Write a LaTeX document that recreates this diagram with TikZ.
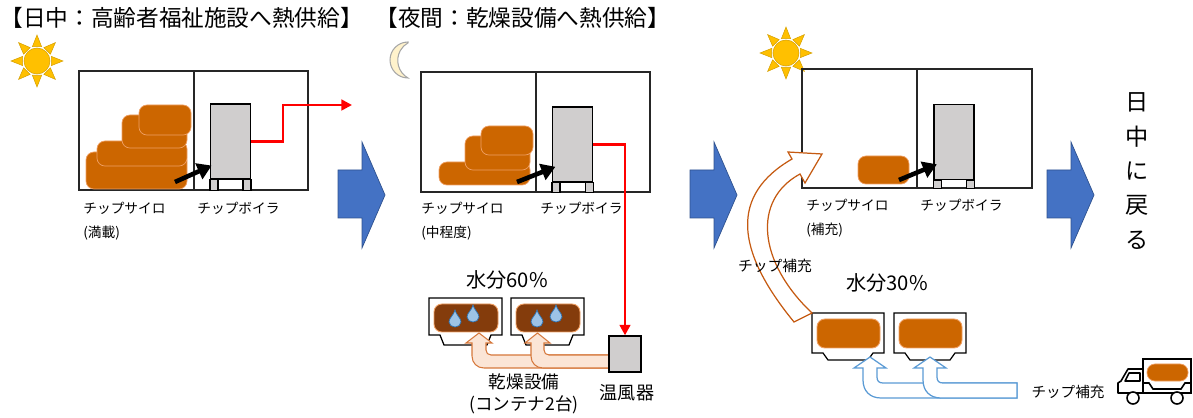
\documentclass[tikz,border=0pt]{standalone}
\usepackage{fontspec}
\setmainfont{Noto Sans CJK JP}
\usetikzlibrary{arrows.meta}
\definecolor{chipor}{RGB}{204,102,0}
\definecolor{chipedge}{RGB}{240,160,100}
\definecolor{wetbrown}{RGB}{132,60,12}
\definecolor{boilgray}{RGB}{208,206,206}
\definecolor{flowblue}{RGB}{68,114,196}
\definecolor{flowedge}{RGB}{47,82,143}
\definecolor{sunyel}{RGB}{255,192,0}
\definecolor{sunedge}{RGB}{214,160,0}
\definecolor{moonfill}{RGB}{255,242,204}
\definecolor{peach}{RGB}{251,229,214}
\definecolor{peachedge}{RGB}{214,120,60}
\definecolor{refill}{RGB}{197,90,17}
\definecolor{skyedge}{RGB}{91,155,213}
\definecolor{dropfill}{RGB}{157,195,230}
\definecolor{dropedge}{RGB}{46,117,182}

\begin{document}
\begin{tikzpicture}[x=0.02cm,y=-0.02cm]
  \tikzstyle{room}=[draw=black!85,line width=0.8pt]
  \tikzstyle{chip}=[fill=chipor,draw=chipedge,line width=0.4pt,rounded corners=4.5pt]
  \tikzstyle{boiler}=[draw=black,fill=boilgray,line width=0.7pt,minimum width=0.8cm,
    minimum height=1.5cm,inner sep=0pt]
  \tikzstyle{feed}=[-{Triangle[length=8pt,width=9.5pt]},line width=2.6pt,black]
  \tikzstyle{heat}=[-{Triangle[length=6pt,width=6pt]},line width=1.6pt,red]
  \tikzstyle{stage}=[fill=flowblue,draw=flowedge,line width=0.4pt]
  \tikzstyle{ttl}=[font=\fontsize{12.9}{15}\selectfont,inner sep=0pt,anchor=west]
  \tikzstyle{lbl}=[font=\fontsize{7.8}{13.6}\selectfont,align=left,inner sep=0pt,anchor=north west]
  \tikzstyle{tray}=[draw=black,fill=white,line width=0.7pt]
  \tikzstyle{drop}=[fill=dropfill,draw=dropedge,line width=0.4pt]
  \tikzstyle{warm}=[fill=peach,draw=peachedge,line width=0.6pt]
  \tikzstyle{supply}=[fill=white,draw=skyedge,line width=0.7pt]
  \tikzstyle{sunray}=[fill=sunyel,draw=sunedge,line width=0.3pt]
  \tikzstyle{truck}=[draw=black,line width=0.9pt]
  \useasboundingbox (0,0) rectangle (1193,418);

  % -- titles --
  \node[ttl] (ttl1) at (0,18) {【日中：高齢者福祉施設へ熱供給】};
  \node[ttl] (ttl2) at (375,18) {【夜間：乾燥設備へ熱供給】};

  % -- suns and moon --
  \foreach \sx/\sy in {37/61,786/53} {
    \foreach \a in {0,45,...,315}
      \draw[sunray,shift={(\sx,\sy)}] (\a:26) -- (\a+18:15) -- (\a-18:15) -- cycle;
    \draw[sunray,shift={(\sx,\sy)}] (0,0) circle (13);
  }
  \draw[fill=moonfill,draw=black!35,line width=0.6pt] (408,42)
    arc[start angle=-90,end angle=-270,radius=18]
    arc[start angle=119.5,end angle=240.5,radius=20.2] -- cycle;

  % -- Stage 1: silo full --
  \draw[room] (79,71) rectangle (308,190) (194,71) -- (194,190);
  \draw[chip] (86,152) rectangle (187,189);
  \draw[chip] (97,141) rectangle (187,166);
  \draw[chip] (122,115) rectangle (187,148);
  \draw[chip] (139,105) rectangle (191,135);
  \node[boiler] (boil1) at (230.5,141.5) {};
  \draw[boiler] (boil1.south west) rectangle ++(8,11);
  \draw[boiler] (boil1.south east) rectangle ++(-8,11);
  \coordinate (feed1) at (175,182);
  \draw[feed] (feed1) -- ([xshift=1pt,yshift=8pt]boil1.south west);
  \coordinate (hout1) at (352,105);
  \draw[heat] (boil1.east) -| (283,105) -- (hout1);
  \node[lbl] (silo1) at (83,202) {チップサイロ\\(満載)};
  \node[lbl] (blr1) at (197,202) {チップボイラ};

  % -- big stage arrows --
  \foreach \x in {338,690,1047}
    \draw[stage] (\x,170) -- (\x+24,170) -- (\x+24,142) -- (\x+47,195)
      -- (\x+24,248) -- (\x+24,218) -- (\x,218) -- cycle;

  % -- Stage 2: night, drying --
  \draw[room] (421,72) rectangle (650,192) (536,72) -- (536,192);
  \draw[chip] (439,162) rectangle (530,185);
  \draw[chip] (465,136) rectangle (530,170);
  \draw[chip] (481,126) rectangle (533,155);
  \node[boiler] (boil2) at (572.5,144.5) {};
  \draw[boiler] (boil2.south west) rectangle ++(8,10);
  \draw[boiler] (boil2.south east) rectangle ++(-8,10);
  \coordinate (feed2) at (517,182);
  \draw[feed] (feed2) -- ([xshift=2pt,yshift=9pt]boil2.south west);
  \node[lbl] (silo2) at (421,202) {チップサイロ\\(中程度)};
  \node[lbl] (blr2) at (540,202) {チップボイラ};

  % drying containers, wet chips
  \node[font=\fontsize{11.5}{14}\selectfont,inner sep=0pt] (moist60) at (507,280) {水分60\%};
  \foreach \cx in {429,511} {
    \draw[tray,shift={(\cx,298)}] (0,0) -- (0,37) -- (11,37) -- (15,47) -- (58,47)
      -- (62,37) -- (73,37) -- (73,0) -- cycle;
    \draw[fill=wetbrown,draw=chipedge,line width=0.5pt,rounded corners=4.5pt,shift={(\cx,298)}]
      (5,6) rectangle (69,34);
  }
  \foreach \dx/\dy in {455/320,473/315,537/320,556/315}
    \draw[drop,shift={(\dx,\dy)}] (0,-10) .. controls (1,-5) and (6,-2) .. (6,2)
      .. controls (6,5) and (3,7) .. (0,7) .. controls (-3,7) and (-6,5) .. (-6,2)
      .. controls (-6,-2) and (-1,-5) .. cycle;
  % warm air into both containers
  \draw[warm] (612,355) -- (491,355) .. controls (488,355) and (486,353) .. (486,350)
    -- (486,343) -- (492,343) -- (479,333) -- (466,343) -- (472,343) -- (472,356)
    .. controls (472,363) and (477,368) .. (484,368) -- (612,368) -- cycle;
  \draw[warm] (612,355) -- (549,355) .. controls (546,355) and (544,353) .. (544,350)
    -- (544,343) -- (550,343) -- (537.5,333) -- (525,343) -- (531,343) -- (531,356)
    .. controls (531,363) and (536,368) .. (543,368) -- (612,368) -- cycle;
  \node[boiler,minimum width=0.64cm,minimum height=0.72cm] (heater) at (625,354) {};
  \draw[heat] (boil2.east) -| (heater.north);
  \node[font=\fontsize{10}{12.5}\selectfont,align=center,inner sep=0pt] (dryer) at (524,394)
    {乾燥設備\\(コンテナ2台)};
  \node[font=\fontsize{10.3}{12}\selectfont,inner sep=0pt] (heatlbl) at (627,393) {温風器};

  % -- Stage 3: refill --
  \draw[room] (802,69) rectangle (1032,188) (917,69) -- (917,188);
  \draw[chip] (858,156) rectangle (909,184);
  \node[boiler] (boil3) at (954,142) {};
  \draw[boiler] (boil3.south west) rectangle ++(8,8.5);
  \draw[boiler] (boil3.south east) rectangle ++(-8,8.5);
  \coordinate (feed3) at (899,180);
  \draw[feed] (feed3) -- ([xshift=2pt,yshift=9pt]boil3.south west);
  \node[lbl] (silo3) at (806,199) {チップサイロ\\(補充)};
  \node[lbl] (blr3) at (920,199) {チップボイラ};

  % dried containers
  \node[font=\fontsize{11.5}{14}\selectfont,inner sep=0pt] (moist30) at (887,283) {水分30\%};
  \foreach \cx in {812,894} {
    \draw[tray,shift={(\cx,313)}] (0,0) -- (0,40) -- (11,40) -- (16,47) -- (56,47)
      -- (61,40) -- (72,40) -- (72,0) -- cycle;
    \draw[fill=chipor,draw=chipedge,line width=0.5pt,rounded corners=4.5pt,shift={(\cx,313)}]
      (5,6) rectangle (68,35);
  }
  % chips back up into the silo
  \draw[fill=white,draw=refill,line width=0.7pt] (794,322)
    .. controls (735,250) and (730,195) .. (792,159) -- (788,152) -- (822,154)
    -- (805,183) -- (800,174) .. controls (752,200) and (758,262) .. (812,313) -- cycle;
  \node[font=\fontsize{8.4}{10}\selectfont,inner sep=0pt] (refill1) at (775,266) {チップ補充};
  % delivery into the containers
  \draw[supply] (1017,383) -- (883,383) .. controls (879,383) and (877,381) .. (877,377)
    -- (877,368) -- (886,368) -- (870,357) -- (854,368) -- (863,368) -- (863,380)
    .. controls (863,391) and (870,398) .. (881,398) -- (1017,398) -- cycle;
  \draw[supply] (1017,383) -- (943,383) .. controls (939,383) and (937,381) .. (937,377)
    -- (937,368) -- (946,368) -- (930,357) -- (914,368) -- (923,368) -- (923,380)
    .. controls (923,391) and (930,398) .. (941,398) -- (1017,398) -- cycle;
  \node[font=\fontsize{8.3}{10}\selectfont,inner sep=0pt] (refill2) at (1068,392) {チップ補充};

  % truck
  \draw[truck] (1143,359) rectangle (1191,393);
  \draw[truck] (1143,383) -- (1149,383) -- (1153,389) -- (1181,389) -- (1185,383) -- (1191,383);
  \fill[chip] (1147,364) rectangle (1188,381);
  \draw[truck,line join=round] (1143,369) -- (1128,369) -- (1121,381) -- (1118,383)
    -- (1118,393) -- (1143,393);
  \draw[truck,line join=round] (1129,373) -- (1140,373) -- (1140,381) -- (1125,381) -- cycle;
  \draw[truck,fill=white] (1133,398) circle (6) (1177,398) circle (6);

  % -- back to daytime --
  \node[font=\fontsize{13.2}{19.6}\selectfont,align=center,inner sep=0pt] (back) at (1137,171)
    {日\\中\\に\\戻\\る};
\end{tikzpicture}
\end{document}
